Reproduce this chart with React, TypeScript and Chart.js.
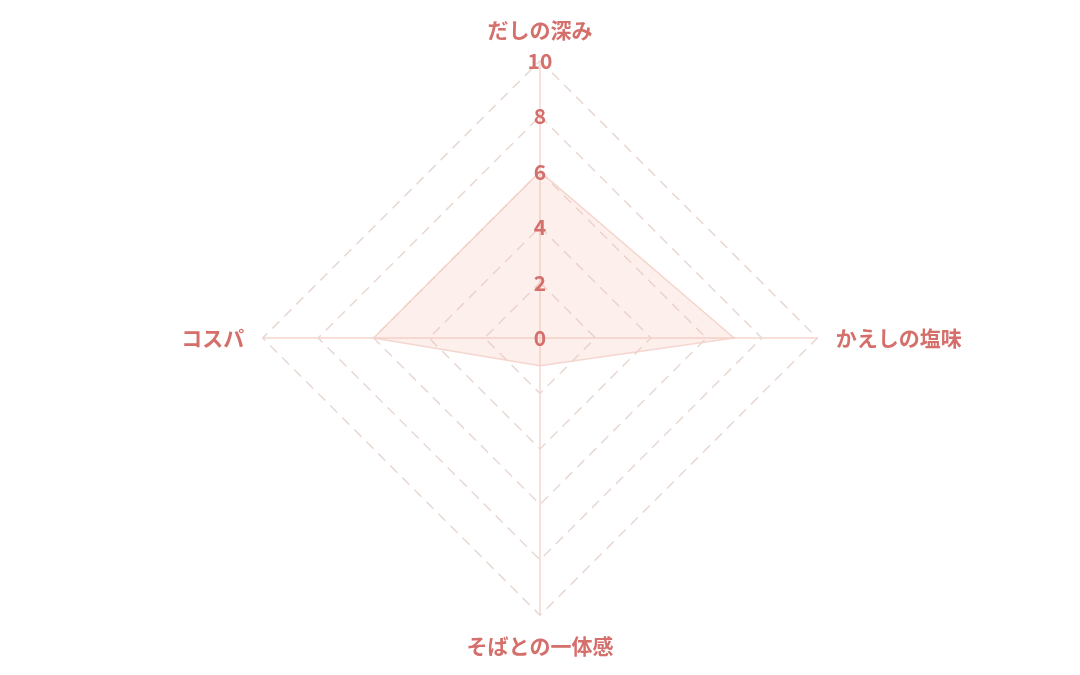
import React, { useEffect, useRef } from "react";
import { Chart, registerables } from "chart.js";

Chart.register(...registerables);

const categories = ["だしの深み", "かえしの塩味", "そばとの一体感", "コスパ"];
const scores = [6, 7, 1, 6];
const tickMin = 0;
const tickMax = 10;
const tickStep = 2;

const LABEL_COLOR = "#d46f6b";
const FONT = "'Noto Sans CJK JP', 'Noto Sans', sans-serif";

// Chart.js skips the tick label at the scale minimum; draw it at the scale's own position.
const zeroTickPlugin = {
  id: "zeroTick",
  afterDatasetsDraw(chart: any) {
    const scale = chart.scales.r;
    if (!scale) return;
    const pos = scale.getPointPositionForValue(0, tickMin);
    const ctx = chart.ctx;
    ctx.save();
    ctx.font = `bold 21px ${FONT}`;
    ctx.fillStyle = LABEL_COLOR;
    ctx.textAlign = "center";
    ctx.textBaseline = "middle";
    ctx.fillText(String(tickMin), pos.x, pos.y);
    ctx.restore();
  },
};

export default function App() {
  const ref = useRef<HTMLCanvasElement | null>(null);
  useEffect(() => {
    if (!ref.current) return;
    const chart = new Chart(ref.current, {
      type: "radar",
      data: {
        labels: categories,
        datasets: [
          {
            label: "評価",
            data: scores,
            backgroundColor: "rgba(246, 195, 185, 0.27)",
            borderColor: "rgba(243, 208, 200, 0.85)",
            borderWidth: 1.5,
            pointRadius: 0,
            fill: true,
          },
        ],
      },
      options: {
        animation: false,
        responsive: true,
        maintainAspectRatio: false,
        layout: { padding: { top: 17, bottom: 15 } },
        plugins: { legend: { display: false }, tooltip: { enabled: false } },
        scales: {
          r: {
            min: tickMin,
            max: tickMax,
            ticks: {
              stepSize: tickStep,
              color: LABEL_COLOR,
              showLabelBackdrop: false,
              z: 1,
              font: { family: FONT, size: 21, weight: "bold" },
            },
            grid: {
              color: "rgba(232, 216, 210, 1)",
              lineWidth: 1.5,
            },
            border: { dash: [10, 7] } as any,
            angleLines: { color: "rgba(245, 212, 206, 1)", lineWidth: 1.5 },
            pointLabels: {
              color: LABEL_COLOR,
              padding: 6,
              font: { family: FONT, size: 21, weight: "bold" },
            },
          },
        },
      },
      plugins: [zeroTickPlugin],
    });
    return () => chart.destroy();
  }, []);
  return (
    <div style={{ position: "fixed", left: 0, top: 0, width: 1080, height: 675, background: "#fff" }}>
      <canvas ref={ref} />
    </div>
  );
}
